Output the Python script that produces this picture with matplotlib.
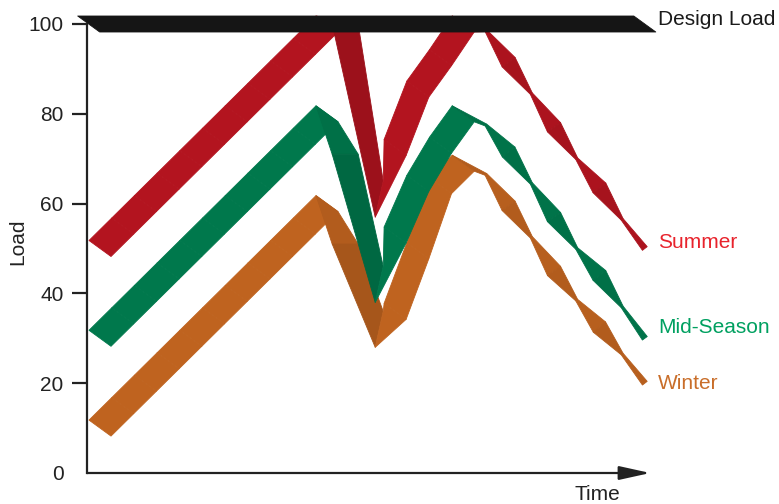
import numpy as np
import matplotlib
matplotlib.use("Agg")
import matplotlib.pyplot as plt
from matplotlib.patches import Polygon
from matplotlib.colors import to_rgb

# ---------------- data ----------------
hours = [0, 1, 2, 3, 4, 5, 6, 7, 8, 9, 10, 10.8, 12.3, 13, 14, 15, 16, 17, 18, 19, 20, 21, 22, 23, 24]
summer = [50, 55, 60, 65, 70, 75, 80, 85, 90, 95, 100, 100, 61, 72.5, 85.5, 92.5, 100, 98.5,
          91.5, 84.5, 77, 70, 63.5, 56.5, 50]
mid_season = [30, 35, 40, 45, 50, 55, 60, 65, 70, 75, 80, 71, 42, 53, 64.5, 73, 80, 77.5,
              71.5, 64.5, 57, 50, 44, 37, 30]
winter = [10, 15, 20, 25, 30, 35, 40, 45, 50, 55, 60, 51, 32, 36, 49.5, 64, 69, 66.5,
          59.5, 52.5, 45, 38.5, 32.5, 26.5, 20]
design_hours = [-0.5, 24]
design_load = [100, 100]

y_ticks = [0, 20, 40, 60, 80, 100]
series_names = ["Summer", "Mid-Season", "Winter"]

# ---------------- style ----------------
FONT = ["Liberation Sans", "DejaVu Sans"]
plt.rcParams["font.family"] = FONT

ribbon_colors = {"Summer": "#b3141f", "Mid-Season": "#00784c", "Winter": "#bf631f"}
label_colors = {"Summer": "#e8232c", "Mid-Season": "#00a060", "Winter": "#c96e2a"}
design_color = "#151515"
axis_color = "#222222"

W, H = 779, 504
fig = plt.figure(figsize=(W / 100, H / 100), dpi=100)
ax_left, ax_right, ax_top, ax_bot = 87, 648, 24, 473
ax = fig.add_axes([ax_left / W, 1 - ax_bot / H, (ax_right - ax_left) / W, (ax_bot - ax_top) / H])

XMIN, XMAX = -0.573, 24.14
ax.set_xlim(XMIN, XMAX)
ax.set_ylim(0, 100)

px_per_hour = (ax_right - ax_left) / (XMAX - XMIN)
px_per_unit = (ax_bot - ax_top) / 100.0

# half offsets of the pseudo-3D ribbon (pixels, y up)
HALF_DEPTH = np.array([11.0, -8.0])
HALF_HORIZ = np.array([13.0, 0.0])
HALF_VERT = np.array([4.0, 18.0])
TWIST_WIDE, TWIST_NARROW = 8.0, 1.2


def shade(color, f):
    r, g, b = to_rgb(color)
    return (r * f, g * f, b * f)


def ribbon(xs, ys, color, z, twist_from=None):
    xs = np.asarray(xs, float)
    ys = np.asarray(ys, float)
    P = np.column_stack([xs * px_per_hour, ys * px_per_unit])
    n = len(xs)

    slopes = []
    for i in range(n - 1):
        d = P[i + 1] - P[i]
        slopes.append(d[1] / d[0])
    steep = [s < -2.5 for s in slopes]

    offs = []
    for j in range(n):
        prev_ok = j > 0
        next_ok = j < n - 1
        is_vmin = prev_ok and next_ok and ys[j - 1] - ys[j] > 3 and ys[j + 1] - ys[j] > 3
        touches_steep = (prev_ok and steep[j - 1]) or (next_ok and steep[j])
        if is_vmin:
            o = HALF_VERT.copy()
        elif touches_steep:
            o = HALF_HORIZ.copy()
        elif twist_from is not None and xs[j] >= twist_from:
            a = P[max(j - 1, 0)]
            b = P[min(j + 1, n - 1)]
            t = (b - a) / np.linalg.norm(b - a)
            nrm = np.array([-t[1], t[0]])
            if j == n - 1:
                hw = 3.0
            else:
                hw = TWIST_NARROW if int(round(xs[j])) % 2 == 1 else TWIST_WIDE
            o = nrm * hw
        else:
            o = HALF_DEPTH.copy()
        offs.append(o)

    for i in range(n - 1):
        d = P[i + 1] - P[i]
        o0, o1 = offs[i].copy(), offs[i + 1].copy()
        if d[0] * o0[1] - d[1] * o0[0] < 0:
            o0 = -o0
        if d[0] * o1[1] - d[1] * o1[0] < 0:
            o1 = -o1
        corners_px = [P[i] - o0, P[i + 1] - o1, P[i + 1] + o1, P[i] + o0]
        corners = [(c[0] / px_per_hour, c[1] / px_per_unit) for c in corners_px]
        falling = ys[i + 1] < ys[i] - 0.5
        f = 1.0
        if falling:
            f = 0.87 if steep[i] else 0.93
        if twist_from is not None and xs[i] >= twist_from:
            f = 0.93 if int(round(xs[i])) % 2 == 0 else 0.96
        poly = Polygon(corners, closed=True, facecolor=shade(color, f),
                       edgecolor=shade(color, f), linewidth=0.6, zorder=z, clip_on=False,
                       joinstyle="round")
        ax.add_patch(poly)


ribbon(hours, winter, ribbon_colors["Winter"], 2, twist_from=17)
ribbon(hours, mid_season, ribbon_colors["Mid-Season"], 3, twist_from=17)
ribbon(hours, summer, ribbon_colors["Summer"], 4, twist_from=17)
ribbon(design_hours, design_load, design_color, 5)

# ---------------- axes ----------------
for side in ["top", "right", "bottom"]:
    ax.spines[side].set_visible(False)
ax.spines["left"].set_color(axis_color)
ax.spines["left"].set_linewidth(1.6)
ax.spines["left"].set_zorder(1)

ax.set_xticks([])
ax.set_yticks(y_ticks)
ax.set_yticklabels([str(v) for v in y_ticks])
ax.tick_params(axis="y", length=11, width=1.6, color=axis_color, pad=6,
               labelsize=15, labelcolor="#222222")
ax.yaxis.get_major_ticks()[0].tick1line.set_visible(False)

ax.annotate("", xy=(1.004, 0), xytext=(0, 0), xycoords="axes fraction",
            textcoords="axes fraction",
            arrowprops=dict(arrowstyle="-|>,head_length=1.9,head_width=0.42",
                            mutation_scale=10, lw=1.6, color=axis_color,
                            shrinkA=0, shrinkB=0), annotation_clip=False)

fig.text(17.5 / W, 1 - 242 / H, "Load", fontsize=15, color="#222222",
         rotation=90, ha="center", va="center")
fig.text(597 / W, 1 - 495 / H, "Time", fontsize=15, color="#222222", ha="center", va="center")

# series labels at the right end
ends = {"Summer": summer, "Mid-Season": mid_season, "Winter": winter}
offsets = {"Summer": (9.5, 4.5), "Mid-Season": (9.5, 8.0), "Winter": (9.5, -0.5)}
for name in series_names:
    ax.annotate(name, xy=(hours[-1], ends[name][-1]), xytext=offsets[name],
                textcoords="offset points", fontsize=15, color=label_colors[name],
                ha="left", va="center", annotation_clip=False)
ax.annotate("Design Load", xy=(design_hours[-1], design_load[-1]), xytext=(9.5, 3.0),
            textcoords="offset points", fontsize=15, color="#1a1a1a",
            ha="left", va="center", annotation_clip=False)

fig.savefig("out.png", dpi=100)
